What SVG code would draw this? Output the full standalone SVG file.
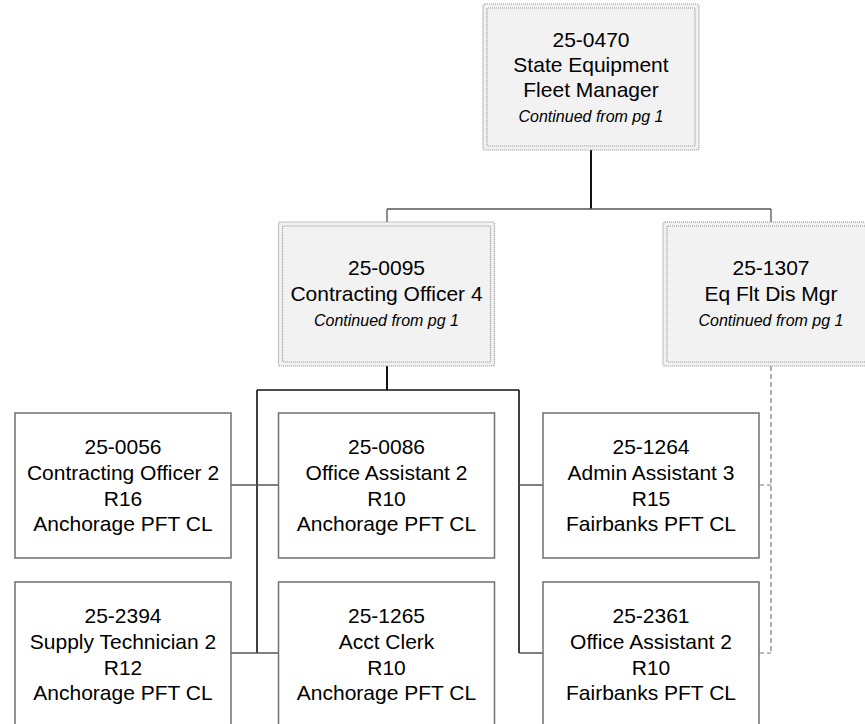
<svg xmlns="http://www.w3.org/2000/svg" width="865" height="724" viewBox="0 0 865 724">
<style>
.t{font-family:"Liberation Sans",Arial,sans-serif;font-size:21px;fill:#000;text-anchor:middle}
.i{font-family:"Liberation Sans",Arial,sans-serif;font-size:16px;font-style:italic;fill:#000;text-anchor:middle}
.box{fill:#fff;stroke:#707070;stroke-width:1.5}
.sh{fill:#f2f2f2;stroke:#909090;stroke-width:1.2;stroke-dasharray:1 1}
.shi{fill:none;stroke:#909090;stroke-width:1.2;stroke-dasharray:1 1}
.c{fill:none;stroke:#555;stroke-width:1.3}
.cb{fill:none;stroke:#111;stroke-width:2}
.cd{fill:none;stroke:#777;stroke-width:1.2;stroke-dasharray:5 3}
</style>
<rect width="865" height="724" fill="#fff"/>
<g id="connectors">
<path class="cb" d="M591,150V209"/>
<path class="c" d="M387,209H771M387,209V222M771,209V222"/>
<path class="cb" d="M387,366V390"/>
<path class="cb" style="stroke-width:1.6" d="M257,390H519M257,390V653M519,390V653"/>
<path class="c" d="M231,485H278M231,653H278M519,485H543M519,653H543"/>
<path class="cd" d="M771,366V653M759,485H771M759,653H771"/>
</g>
<g id="n-25-0470">
<rect class="sh" x="483" y="4" width="216" height="146" rx="2"/>
<rect class="shi" x="487" y="8" width="208" height="138" rx="1"/>
<text class="t" x="591" y="47">25-0470</text>
<text class="t" x="591" y="72">State Equipment</text>
<text class="t" x="591" y="97">Fleet Manager</text>
<text class="i" x="591" y="122">Continued from pg 1</text>
</g>
<g id="n-25-0095">
<rect class="sh" x="278.5" y="222" width="216" height="144" rx="2"/>
<rect class="shi" x="282.5" y="226" width="208" height="136" rx="1"/>
<text class="t" x="386.5" y="275">25-0095</text>
<text class="t" x="386.5" y="301">Contracting Officer 4</text>
<text class="i" x="386.5" y="326">Continued from pg 1</text>
</g>
<g id="n-25-1307">
<rect class="sh" x="663" y="222" width="216" height="144" rx="2"/>
<rect class="shi" x="667" y="226" width="208" height="136" rx="1"/>
<text class="t" x="771" y="275">25-1307</text>
<text class="t" x="771" y="301">Eq Flt Dis Mgr</text>
<text class="i" x="771" y="326">Continued from pg 1</text>
</g>
<g id="n-25-0056">
<rect class="box" x="15" y="413" width="216" height="145"/>
<text class="t" x="123" y="454">25-0056</text>
<text class="t" x="123" y="480">Contracting Officer 2</text>
<text class="t" x="123" y="505.5">R16</text>
<text class="t" x="123" y="531">Anchorage PFT CL</text>
</g>
<g id="n-25-0086">
<rect class="box" x="278.5" y="413" width="216" height="145"/>
<text class="t" x="386.5" y="454">25-0086</text>
<text class="t" x="386.5" y="480">Office Assistant 2</text>
<text class="t" x="386.5" y="505.5">R10</text>
<text class="t" x="386.5" y="531">Anchorage PFT CL</text>
</g>
<g id="n-25-1264">
<rect class="box" x="543" y="413" width="216" height="145"/>
<text class="t" x="651" y="454">25-1264</text>
<text class="t" x="651" y="480">Admin Assistant 3</text>
<text class="t" x="651" y="505.5">R15</text>
<text class="t" x="651" y="531">Fairbanks PFT CL</text>
</g>
<g id="n-25-2394">
<rect class="box" x="15" y="582" width="216" height="145"/>
<text class="t" x="123" y="623">25-2394</text>
<text class="t" x="123" y="649">Supply Technician 2</text>
<text class="t" x="123" y="674.5">R12</text>
<text class="t" x="123" y="700">Anchorage PFT CL</text>
</g>
<g id="n-25-1265">
<rect class="box" x="278.5" y="582" width="216" height="145"/>
<text class="t" x="386.5" y="623">25-1265</text>
<text class="t" x="386.5" y="649">Acct Clerk</text>
<text class="t" x="386.5" y="674.5">R10</text>
<text class="t" x="386.5" y="700">Anchorage PFT CL</text>
</g>
<g id="n-25-2361">
<rect class="box" x="543" y="582" width="216" height="145"/>
<text class="t" x="651" y="623">25-2361</text>
<text class="t" x="651" y="649">Office Assistant 2</text>
<text class="t" x="651" y="674.5">R10</text>
<text class="t" x="651" y="700">Fairbanks PFT CL</text>
</g>
</svg>
